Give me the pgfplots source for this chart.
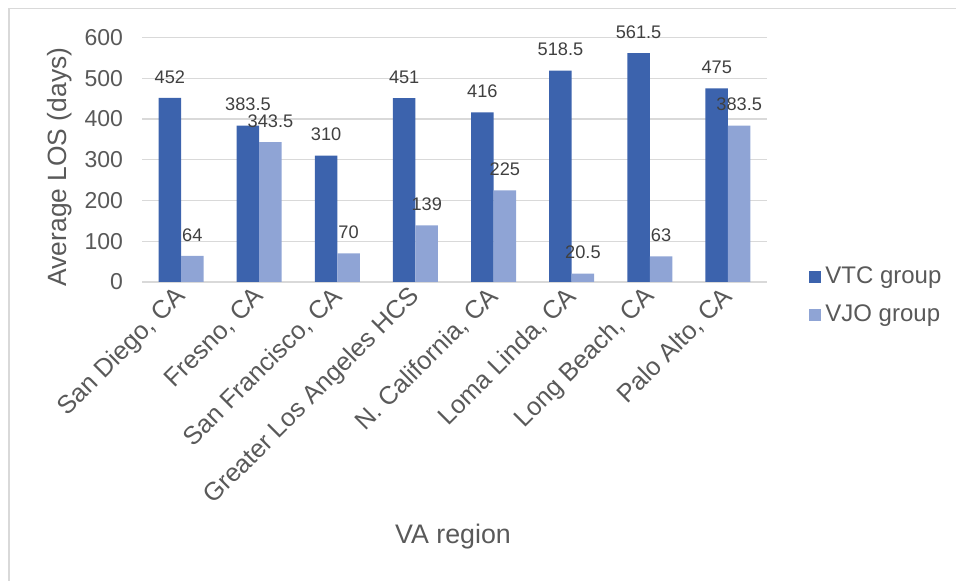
\documentclass[border=0pt]{standalone}
\usepackage{pgfplots}
\pgfplotsset{compat=1.18}
\usepackage{fontspec}
\setmainfont{Liberation Sans}
\definecolor{vtc}{HTML}{3C63AD}
\definecolor{vjo}{HTML}{8FA4D5}
\definecolor{gridc}{HTML}{D9D9D9}
\definecolor{txt}{HTML}{595959}
\definecolor{lbl}{HTML}{404040}
\begin{document}
\begin{tikzpicture}
\useasboundingbox (0pt,0pt) rectangle (478pt,-290.5pt);
\draw[gridc, line width=0.75pt] (4.5pt,-290.5pt) -- (4.5pt,-4.25pt) -- (478pt,-4.25pt);
\begin{axis}[
  at={(71pt,-141pt)}, anchor=south west,
  scale only axis,
  width=312.5pt, height=122.25pt,
  xmin=-0.5, xmax=7.5,
  ymin=0, ymax=600,
  ytick={0,100,...,600},
  xtick={0,...,7},
  xticklabels={{San Diego, CA}, {Fresno, CA}, {San Francisco, CA}, {Greater Los Angeles HCS}, {N. California, CA}, {Loma Linda, CA}, {Long Beach, CA}, {Palo Alto, CA}},
  major tick length=0pt,
  ymajorgrids,
  grid style={gridc, line width=0.6pt},
  axis x line*=bottom, axis y line*=left,
  x axis line style={gridc, line width=0.9pt, -},
  y axis line style={draw=none},
  /pgf/number format/assume math mode=true,
  yticklabel style={font=\fontsize{11.5pt}{13pt}\selectfont, text=txt, xshift=-6pt},
  xticklabel style={font=\fontsize{12.7pt}{14pt}\selectfont, text=txt, rotate=45, anchor=east, yshift=-4pt},
  ylabel={Average LOS (days)},
  ylabel style={font=\fontsize{13.2pt}{15pt}\selectfont, text=txt, at={(axis description cs:-0.132,0.47)}, anchor=center, rotate=0},
  xlabel={VA region},
  xlabel style={font=\fontsize{13.4pt}{15pt}\selectfont, text=txt, at={(axis description cs:0.4976,-1.043)}, anchor=center},
  ybar, bar width=11.25pt,
  nodes near coords,
  every node near coord/.append style={font=\fontsize{9.1pt}{11pt}\selectfont, text=lbl, anchor=center, yshift=10.5pt},
  legend style={at={(axis description cs:1.0672,-0.0564)}, anchor=west, draw=none, fill=none,
    font=\fontsize{12pt}{14pt}\selectfont, text=txt, row sep=5pt, inner sep=0pt,
    cells={anchor=west}},
  legend image code/.code={\fill[#1] (0pt,-3pt) rectangle (6pt,3pt);},
]
\addplot[fill=vtc, draw=none, bar shift=-5.625pt] coordinates {(0,452) (1,383.5) (2,310) (3,451) (4,416) (5,518.5) (6,561.5) (7,475)};
\addplot[fill=vjo, draw=none, bar shift=5.625pt] coordinates {(0,64) (1,343.5) (2,70) (3,139) (4,225) (5,20.5) (6,63) (7,383.5)};
\legend{VTC group, VJO group}
\end{axis}
\end{tikzpicture}
\end{document}
